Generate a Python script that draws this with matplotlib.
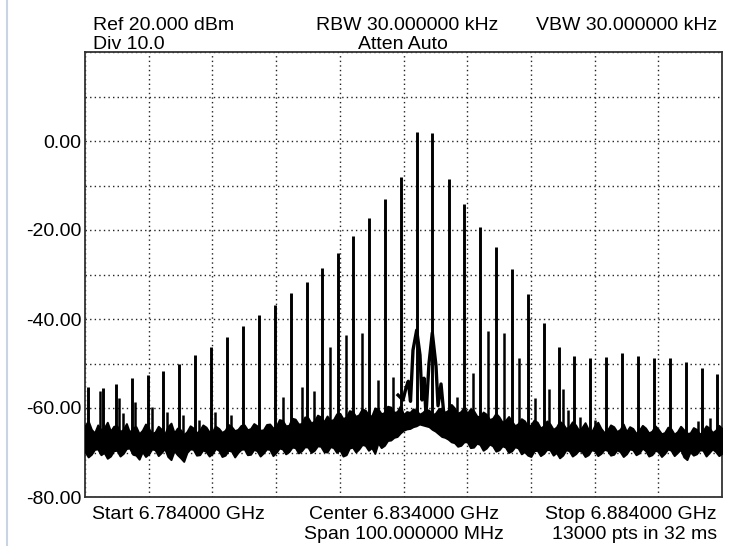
import numpy as np
import matplotlib
matplotlib.use("Agg")
from matplotlib import pyplot as plt
from matplotlib.lines import Line2D

plt.rcParams['font.family'] = ['Liberation Sans', 'DejaVu Sans']

# frequency axis: MHz from start (6.784 GHz), span 100 MHz
# comb lines
comb_mhz = [0.42, 2.87, 4.82, 7.33, 9.84, 12.29, 14.76, 17.27, 19.78, 22.34,
            24.80, 27.27, 29.83, 32.29, 34.80, 37.25, 39.67, 42.12, 44.58, 47.10,
            49.61, 52.07, 54.52, 57.10, 59.54, 62.01, 64.52, 66.99, 69.50, 72.01,
            74.46, 76.81, 79.28, 81.84, 84.35, 86.81, 89.32, 91.84, 94.30, 96.81,
            99.26]
comb_dbm = [-55.3, -55.6, -54.6, -53.3, -52.6, -51.7, -50.1, -48.1, -46.4, -44.0,
            -41.6, -39.1, -36.9, -34.2, -31.6, -28.6, -25.2, -21.3, -17.4, -13.1,
            -8.0, 2.1, 1.9, -8.5, -14.2, -19.3, -23.9, -28.8, -34.4, -40.8,
            -46.2, -48.3, -48.7, -48.5, -47.7, -48.3, -48.7, -48.7, -49.6, -51.1,
            -52.4]

# smaller spurs between the comb lines
spur_mhz = [2.35, 5.38, 6.01, 7.85, 10.47, 12.92, 15.43, 17.94, 20.40, 22.87,
            31.13, 34.00, 36.00, 38.46, 40.97, 43.44, 45.93, 48.40, 58.35, 60.86,
            63.31, 65.78, 68.18, 70.64, 72.89, 75.09, 75.87, 77.71, 80.06, 96.23,
            98.12]
spur_dbm = [-56.1, -57.8, -61.1, -58.6, -59.7, -61.0, -61.6, -62.7, -60.8, -61.6,
            -57.5, -55.2, -56.2, -46.4, -43.6, -43.2, -53.7, -53.0, -57.5, -52.1,
            -42.6, -43.2, -48.7, -57.7, -55.8, -55.8, -60.5, -62.0, -62.7, -63.0,
            -62.2]

# trace near the carrier (broad humps)
center_mhz = [49.14, 49.92, 50.39, 50.75, 51.10, 51.49, 52.07, 52.59, 52.90, 53.22,
              53.53, 54.00, 54.52, 55.10, 55.42, 55.89, 56.36, 56.83]
center_dbm = [-57.1, -58.2, -55.5, -54.0, -58.5, -47.0, -42.5, -48.1, -58.2, -53.3,
              -61.6, -50.0, -43.1, -50.5, -59.5, -54.6, -61.8, -64.0]

# noise floor envelope, one reading per 0.5 MHz (0..100)
floor_mhz = [i / 2 for i in range(201)]
floor_top = [
    -64.0, -62.9, -64.8, -65.6, -63.8, -64.9, -64.5, -63.2, -65.2, -64.1,
    -64.0, -65.3, -64.8, -63.5, -65.5, -64.4, -64.2, -65.8, -65.0, -63.6,
    -64.6, -65.7, -65.4, -64.1, -64.8, -65.9, -64.2, -63.4, -65.6, -64.5,
    -64.9, -66.0, -65.3, -64.0, -64.5, -65.6, -65.0, -63.8, -64.3, -65.4,
    -65.2, -64.1, -64.6, -65.5, -65.0, -63.7, -64.2, -65.1, -64.8, -63.9,
    -63.8, -64.9, -64.6, -63.5, -64.0, -65.0, -64.9, -63.7, -63.6, -64.5,
    -64.2, -62.6, -62.8, -64.0, -63.9, -62.3, -62.5, -63.6, -63.5, -62.0,
    -62.2, -63.4, -62.9, -61.6, -62.0, -63.1, -61.8, -62.8, -62.6, -61.3,
    -61.2, -62.4, -62.0, -60.6, -60.8, -61.9, -61.5, -60.2, -60.5, -61.6,
    -61.8, -60.0, -60.2, -61.3, -61.0, -59.6, -59.8, -61.0, -60.8, -59.5,
    -61.5, -60.8, -61.0, -60.2, -60.5, -61.4, -61.0, -60.3, -60.5, -61.5,
    -61.2, -60.2, -60.0, -61.0, -60.5, -59.2, -60.0, -61.2, -60.8, -59.8,
    -61.2, -60.2, -60.6, -61.8, -62.0, -60.9, -61.4, -62.6, -62.3, -61.2,
    -62.0, -63.2, -62.8, -61.9, -63.0, -64.0, -63.5, -62.4, -62.9, -64.1,
    -63.8, -62.7, -63.2, -64.5, -64.0, -62.9, -63.6, -64.8, -64.3, -63.0,
    -63.5, -64.6, -64.2, -63.1, -63.8, -65.0, -64.4, -63.3, -64.8, -65.4,
    -64.0, -63.2, -64.6, -65.5, -65.0, -63.8, -64.2, -65.3, -64.8, -63.6,
    -65.3, -64.2, -64.6, -65.7, -65.0, -63.9, -64.5, -65.6, -65.2, -64.0,
    -64.8, -65.8, -65.5, -64.3, -64.7, -65.9, -65.3, -64.1, -64.9, -65.7,
    -65.6, -64.4, -64.8, -65.9, -65.2, -64.0, -64.5, -65.5, -65.0, -63.9,
    -64.6]
floor_bot = [
    -69.8, -71.0, -70.4, -69.3, -69.2, -70.5, -70.0, -71.3, -70.8, -69.6,
    -69.5, -70.8, -70.2, -69.1, -69.0, -70.4, -70.6, -71.5, -69.8, -70.9,
    -70.3, -69.2, -69.4, -70.7, -70.0, -69.1, -70.9, -71.6, -69.6, -70.5,
    -71.2, -72.0, -70.0, -69.2, -69.3, -70.6, -70.5, -69.4, -69.8, -70.8,
    -70.2, -69.1, -69.5, -70.9, -70.6, -69.5, -69.7, -71.0, -70.0, -69.3,
    -69.2, -70.5, -70.4, -69.3, -69.6, -70.8, -70.1, -69.2, -69.3, -70.7,
    -70.0, -69.0, -69.2, -70.3, -69.8, -68.8, -68.9, -70.1, -69.6, -68.7,
    -68.8, -70.0, -69.5, -68.5, -68.6, -69.8, -69.9, -68.7, -68.9, -70.0,
    -69.4, -70.8, -70.5, -69.0, -68.8, -69.9, -69.2, -68.2, -68.4, -69.5,
    -68.9, -70.2, -67.8, -68.9, -68.4, -67.3, -67.2, -66.6, -66.4, -65.6,
    -65.0, -64.7, -64.6, -64.2, -64.0, -63.6, -63.8, -64.0, -64.2, -64.8,
    -65.2, -65.8, -66.4, -66.6, -67.0, -67.6, -67.8, -68.6, -68.4, -67.6,
    -67.6, -68.9, -68.8, -67.9, -68.2, -69.5, -69.0, -68.1, -68.5, -69.7,
    -69.4, -68.5, -68.8, -70.0, -69.6, -68.7, -69.0, -70.3, -69.8, -70.6,
    -70.9, -69.6, -69.5, -70.7, -70.2, -69.3, -69.4, -70.6, -70.0, -71.2,
    -70.6, -69.4, -69.6, -70.8, -70.3, -69.5, -69.8, -70.9, -70.5, -69.4,
    -69.6, -70.7, -70.2, -69.3, -69.5, -70.6, -70.4, -69.4, -69.8, -70.9,
    -70.3, -69.2, -69.4, -70.5, -70.1, -69.0, -69.6, -70.8, -70.5, -69.5,
    -69.8, -70.9, -70.2, -69.2, -69.5, -70.7, -70.0, -69.3, -71.0, -71.6,
    -69.8, -70.6, -70.3, -69.4, -69.5, -70.8, -70.0, -69.2, -69.8, -70.7,
    -70.2]

ytick_vals = [-80, -70, -60, -50, -40, -30, -20, -10, 0, 10, 20]

W, H = 735, 546
fig = plt.figure(figsize=(W / 100, H / 100), dpi=100)
ax = fig.add_axes([85 / W, 1 - 497 / H, 637 / W, 445 / H])

# noise floor band
ax.fill_between(floor_mhz, floor_bot, floor_top, color='black', lw=1.4,
                edgecolor='black', zorder=3)
ax.plot(center_mhz, center_dbm, color='black', lw=2.4, zorder=4)

base = np.interp(comb_mhz, floor_mhz, floor_top)
ax.vlines(comb_mhz, base - 2, comb_dbm, color='black', lw=2.1, zorder=4)
base = np.interp(spur_mhz, floor_mhz, floor_top)
ax.vlines(spur_mhz, base - 2, spur_dbm, color='black', lw=1.8, zorder=4)

ax.set_xlim(0, 100)
ax.set_ylim(-80, 20)
ax.set_xticks(np.linspace(0, 100, 11))
ax.set_yticks(ytick_vals)
ax.set_xticklabels([])
ax.set_yticklabels([f"{v:.2f}" if v % 20 == 0 and v < 20 else "" for v in ytick_vals],
                   fontsize=14)
ax.tick_params(length=0, pad=2.5)
ax.grid(True, color='#222222', lw=1.0, linestyle=(0, (1, 2.3)), zorder=0)
for s in ax.spines.values():
    s.set_color('#333333')
    s.set_linewidth(1.3)

def ftxt(x, y, s, ha='left'):
    fig.text(x / W, 1 - y / H, s, ha=ha, va='baseline', fontsize=14)

ftxt(93, 30, "Ref 20.000 dBm")
ftxt(93, 49, "Div 10.0")
ftxt(407, 30, "RBW 30.000000 kHz", ha='center')
ftxt(403, 49, "Atten Auto", ha='center')
ftxt(717, 30, "VBW 30.000000 kHz", ha='right')
ftxt(92, 519, "Start 6.784000 GHz")
ftxt(404, 519, "Center 6.834000 GHz", ha='center')
ftxt(404, 539, "Span 100.000000 MHz", ha='center')
ftxt(717, 519, "Stop 6.884000 GHz", ha='right')
ftxt(717, 539, "13000 pts in 32 ms", ha='right')

# window border on the far left
fig.add_artist(Line2D([7 / W, 7 / W], [0, 1], color='#c9d3e6', lw=1.5))

fig.savefig('out.png', dpi=100)
